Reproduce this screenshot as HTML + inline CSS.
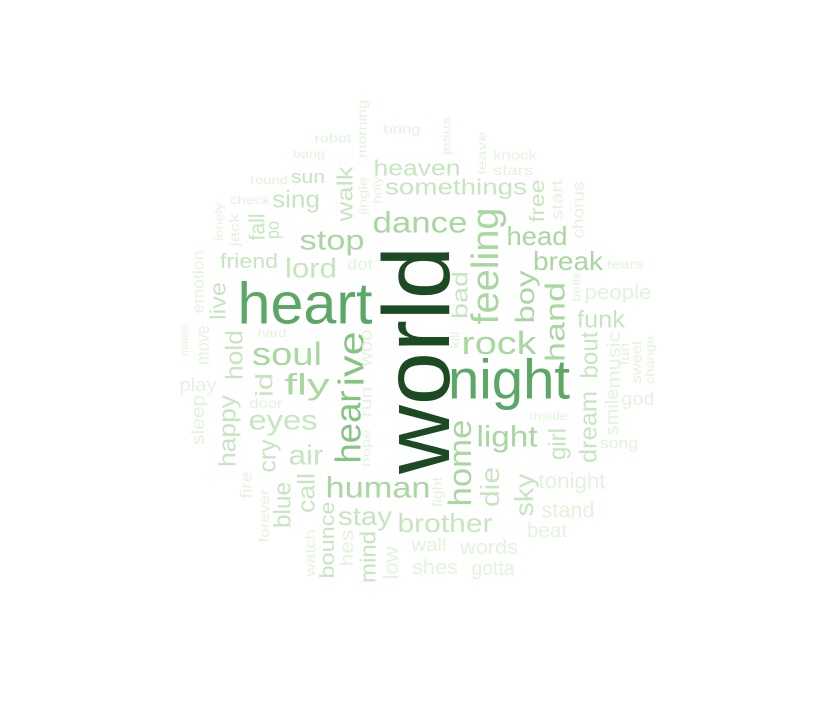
<!DOCTYPE html>
<html><head><meta charset="utf-8"><style>
html,body{margin:0;padding:0;background:#fff;}
svg{display:block;}
text{font-family:"Liberation Sans",Arial,sans-serif;}
</style></head><body>
<svg id="cloud" width="826" height="716" viewBox="0 0 826 716"></svg>
<script>
const colors = ["#1b4a23","#5ba866","#86c484","#a8d7a0","#c6e6bf","#e3f3df"];
// word, cx, cy, size, length, vertical, colorIndex
const words = [
["world",417,360,95,228,1,0],
["heart",305,304,58,135,0,1],
["night",509,379,56,122,0,1],
["hear",348,427,36,73,1,2],
["ive",351,359,36,55,1,2],
["rock",499,343,32,75,0,3],
["dance",420,223,30,95,0,3],
["feeling",486,266,38,117,1,3],
["soul",287,354,32,70,0,3],
["fly",307,385,30,45,0,3],
["human",378,488,30,105,0,3],
["light",507,437,30,61,0,3],
["home",460,463,32,87,1,3],
["stop",332,240,28,65,0,3],
["head",537,236,26,61,0,3],
["break",568,261,26,70,0,3],
["boy",525,297,26,53,1,3],
["hand",555,322,28,80,1,3],
["lord",311,268,28,52,0,4],
["sing",296,200,24,48,0,4],
["walk",345,194,22,55,1,4],
["heaven",417,168,22,87,0,4],
["somethings",456,187,22,142,0,4],
["fall",257,227,22,27,1,4],
["sun",308,177,18,34,0,4],
["po",273,230,18,18,1,4],
["friend",249,262,20,58,0,4],
["eyes",283,420,28,69,0,4],
["air",306,455,28,35,0,4],
["hold",235,355,24,50,1,4],
["happy",228,431,24,72,1,4],
["id",265,385,24,24,1,4],
["cry",268,456,24,33,1,4],
["call",307,493,24,40,1,4],
["blue",283,505,24,46,1,4],
["stay",365,516,26,54,0,4],
["brother",445,523,26,95,0,4],
["die",490,487,26,40,1,4],
["sky",524,495,26,43,1,4],
["girl",558,444,24,32,1,4],
["dream",589,427,24,72,1,4],
["bout",590,355,24,47,1,4],
["funk",601,320,24,48,0,4],
["bad",460,295,22,48,1,4],
["free",538,201,20,43,1,4],
["live",218,301,22,38,1,4],
["bounce",328,540,20,77,1,4],
["mind",368,557,22,52,1,4],
["tonight",572,481,22,67,0,5],
["stand",568,510,22,53,0,5],
["people",618,293,20,67,0,5],
["words",489,548,20,58,0,5],
["shes",435,568,20,46,0,5],
["gotta",493,569,20,43,0,5],
["wall",429,545,18,35,0,5],
["beat",547,531,20,40,0,5],
["low",392,563,20,33,1,5],
["hes",347,548,18,37,1,5],
["watch",310,553,14,47,1,5],
["forever",264,516,14,53,1,5],
["fire",247,485,16,27,1,5],
["door",266,403,14,33,0,5],
["sleep",198,420,18,50,1,5],
["play",198,385,18,37,0,5],
["move",203,345,18,40,1,5],
["makes",185,340,11,32,1,5],
["hard",272,333,12,29,0,5],
["emotion",199,282,16,63,1,5],
["lonely",219,222,12,38,1,5],
["jack",234,230,14,33,1,5],
["check",250,200,12,40,0,5],
["round",269,180,12,38,0,5],
["bang",309,154,12,32,0,5],
["robot",333,138,13,37,0,5],
["morning",362,129,13,58,1,5],
["bring",402,129,13,37,0,5],
["jingle",363,196,12,38,1,5],
["holy",377,190,12,27,1,5],
["dot",360,265,16,26,0,5],
["woo",366,348,18,37,1,5],
["run",367,402,16,30,1,5],
["hope",366,448,12,37,1,5],
["kill",455,340,12,17,1,5],
["fight",437,492,14,30,1,5],
["jesus",446,136,12,38,1,5],
["leave",482,153,12,43,1,5],
["knock",515,155,13,44,0,5],
["stars",513,170,14,40,0,5],
["start",558,200,16,40,1,5],
["chorus",579,210,16,57,1,5],
["tears",625,264,13,36,0,5],
["bells",577,287,11,30,1,5],
["music",614,360,18,57,1,5],
["fun",624,354,14,22,1,5],
["sweet",636,362,14,43,1,5],
["change",650,360,12,48,1,5],
["god",638,399,18,33,0,5],
["smile",612,412,18,47,1,5],
["inside",549,416,12,38,0,5],
["song",619,444,16,38,0,5]
];
const svg = document.getElementById('cloud');
const NS = "http://www.w3.org/2000/svg";
words.forEach(w => {
  const t = document.createElementNS(NS, 'text');
  
  
  t.setAttribute('x', w[1]);
  t.setAttribute('y', w[2]);
  t.setAttribute('font-size', w[3]);
  t.setAttribute('text-anchor', 'middle');
  t.setAttribute('dominant-baseline', 'central');
  t.setAttribute('textLength', w[4]);
  t.setAttribute('lengthAdjust', 'spacingAndGlyphs');
  t.setAttribute('fill', colors[w[6]]);
  if (w[5]) t.setAttribute('transform', 'rotate(-90 ' + w[1] + ' ' + w[2] + ')');
  t.textContent = w[0];
  svg.appendChild(t);
});
</script>
</body></html>
